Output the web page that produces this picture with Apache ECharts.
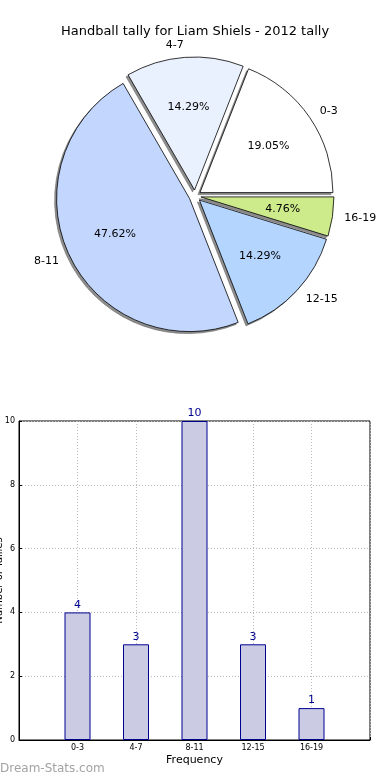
<!DOCTYPE html>
<html><head><meta charset="utf-8">
<script src="https://cdn.jsdelivr.net/npm/echarts@6/dist/echarts.min.js"></script>
<style>html,body{margin:0;padding:0;background:#fff}#c{width:390px;height:780px}</style>
</head><body><div id="c"></div>
<script>
const categories = ['0-3', '4-7', '8-11', '12-15', '16-19'];
const counts = [4, 3, 10, 3, 1];
const sliceColors = ['#ffffff', '#eaf1fe', '#c3d7fe', '#b3d5fe', '#cdeb8b'];
const yTicks = [0, 2, 4, 6, 8, 10];
const titleText = 'Handball tally for Liam Shiels - 2012 tally';
const xName = 'Frequency';
const yName = 'Number of Tallies';

const total = counts.reduce((a, b) => a + b, 0);
const R = 133;
const cx = 195, cy = 196;
const font = 'DejaVu Sans';

function pieData(kind) {
  return categories.map((c, i) => {
    let itemStyle;
    if (kind === 'main') itemStyle = { color: sliceColors[i] };
    else if (kind === 'shadow') itemStyle = { color: '#8e8e8e', borderColor: '#6a6a6a', borderWidth: 0.6 };
    else itemStyle = { color: 'rgba(0,0,0,0)', borderWidth: 0 };
    return { name: c, value: counts[i], selected: true, itemStyle };
  });
}
const common = {
  type: 'pie', startAngle: 0, clockwise: false,
  selectedMode: 'multiple', selectedOffset: 6, animation: false,
  emphasis: { disabled: true }, avoidLabelOverlap: false, minShowLabelAngle: 0
};

const chart = echarts.init(document.getElementById('c'), null, { renderer: 'canvas' });
chart.setOption({
  animation: false,
  title: { text: titleText, left: 'center', top: 20, textStyle: { fontFamily: font, fontSize: 13, fontWeight: 'normal', color: '#000' } },
  graphic: [{ type: 'text', left: 0, top: 763, style: { text: 'Dream-Stats.com', fill: '#a3a3a3', font: '12px "DejaVu Sans"' } }],
  grid: { left: 19, right: 20, top: 421, bottom: 40, show: true, borderColor: '#000', borderWidth: 1, outerBoundsMode: 'none', containLabel: false },
  xAxis: {
    type: 'value', min: -1, max: 5, interval: 1,
    name: xName, nameLocation: 'middle', nameGap: 15,
    nameTextStyle: { fontFamily: font, fontSize: 11, color: '#000' },
    axisLine: { show: true, onZero: false, lineStyle: { color: '#000' } },
    axisTick: { show: true, inside: true, length: 3, lineStyle: { color: '#000' } },
    axisLabel: { fontFamily: font, fontSize: 8, color: '#000', margin: 4,
      formatter: v => (categories[v] !== undefined ? categories[v] : '') },
    splitLine: { show: true, lineStyle: { color: '#bbbbbb', type: [1, 2] } }
  },
  yAxis: {
    type: 'value', min: yTicks[0], max: yTicks[yTicks.length - 1], interval: 2,
    name: yName, nameLocation: 'middle', nameGap: 15, nameMoveOverlap: false,
    nameTextStyle: { fontFamily: font, fontSize: 10, color: '#000' },
    axisLine: { show: true, onZero: false, lineStyle: { color: '#000' } },
    axisTick: { show: true, inside: true, length: 3, lineStyle: { color: '#000' } },
    axisLabel: { fontFamily: font, fontSize: 8, color: '#000', margin: 4 },
    splitLine: { show: true, lineStyle: { color: '#bbbbbb', type: [1, 2] } }
  },
  series: [
    Object.assign({}, common, {
      name: 'shadow', center: [cx - 2, cy + 2], radius: [0, R], data: pieData('shadow'), silent: true, z: 1,
      label: { show: false }, labelLine: { show: false }
    }),
    Object.assign({}, common, {
      name: 'pie', center: [cx, cy], radius: [0, R], data: pieData('main'), z: 2,
      itemStyle: { borderColor: '#000', borderWidth: 0.8 },
      label: { show: true, position: 'outside', fontFamily: font, fontSize: 11, color: '#000', formatter: '{b}', distanceToLabelLine: 0 },
      labelLine: { show: false, length: R * 0.09, length2: 0 }
    }),
    Object.assign({}, common, {
      name: 'pct', center: [cx, cy], radius: [0, R * 1.2], data: pieData('none'), silent: true, z: 3,
      label: { show: true, position: 'inside', fontFamily: font, fontSize: 11, color: '#000',
        formatter: p => (p.value / total * 100).toFixed(2) + '%' },
      labelLine: { show: false }
    }),
    {
      type: 'bar', data: categories.map((c, i) => [i, counts[i]]), barWidth: 26,
      itemStyle: { color: '#cbcce3', borderColor: '#000090', borderWidth: 1 },
      label: { show: true, position: 'top', distance: 2, fontFamily: font, fontSize: 11, color: '#000090' },
      emphasis: { disabled: true }, z: 1
    }
  ]
});
</script></body></html>
